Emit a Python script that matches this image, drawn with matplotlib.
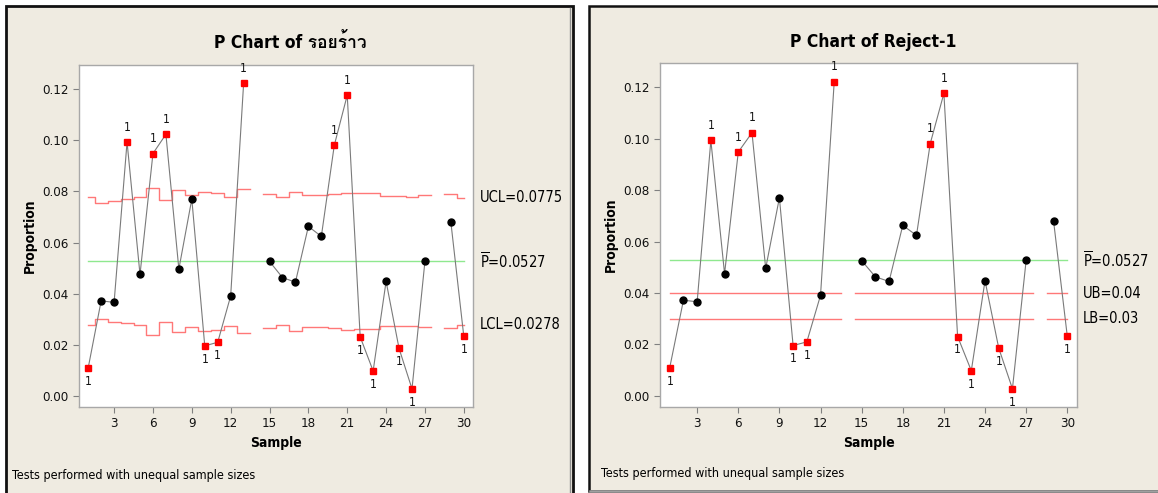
import numpy as np
import matplotlib
matplotlib.use("Agg")
import matplotlib.pyplot as plt
from matplotlib import font_manager
from matplotlib.ft2font import FT2Font
from matplotlib.patches import Rectangle
from matplotlib.lines import Line2D
from matplotlib.transforms import blended_transform_factory

# ---------------- data ----------------
samples = list(range(1, 31))
proportion = [0.0110, 0.0372, 0.0366, 0.0993, 0.0475, 0.0948, 0.1023, 0.0496, 0.0770, 0.0196,
              0.0210, 0.0391, 0.1222, None, 0.0526, 0.0463, 0.0445, 0.0663, 0.0624, 0.0980,
              0.1176, 0.0231, 0.0098, 0.0448, 0.0186, 0.0028, 0.0527, None, 0.0680, 0.0233]
flag_above = [4, 6, 7, 13, 20, 21]
flag_below = [1, 10, 11, 22, 23, 25, 26, 30]

ucl = [0.0777, 0.0753, 0.0764, 0.0770, 0.0778, 0.0814, 0.0765, 0.0804, 0.0786, 0.0799,
       0.0795, 0.0779, 0.0808, None, 0.0790, 0.0778, 0.0798, 0.0784, 0.0786, 0.0790,
       0.0795, 0.0792, 0.0794, 0.0782, 0.0781, 0.0779, 0.0784, None, 0.0789, 0.0775]
lcl = [0.0277, 0.0301, 0.0290, 0.0284, 0.0276, 0.0240, 0.0289, 0.0250, 0.0268, 0.0255,
       0.0259, 0.0275, 0.0246, None, 0.0264, 0.0276, 0.0256, 0.0270, 0.0268, 0.0264,
       0.0259, 0.0262, 0.0260, 0.0272, 0.0273, 0.0275, 0.0270, None, 0.0265, 0.0278]
p_bar = 0.0527
ub = 0.04
lb = 0.03

titles = ["P Chart of รอยร้าว", "P Chart of Reject-1"]
ucl_label = "UCL=0.0775"
lcl_label = "LCL=0.0278"
pbar_label = r"$\mathregular{\overline{P}}$=0.0527"
ub_label = "UB=0.04"
lb_label = "LB=0.03"
xticks = [3, 6, 9, 12, 15, 18, 21, 24, 27, 30]
yticks = [0.00, 0.02, 0.04, 0.06, 0.08, 0.10, 0.12]
footer = "Tests performed with unequal sample sizes"

# ---------------- fonts ----------------
names = {f.name for f in font_manager.fontManager.ttflist}
main_font = "Liberation Sans Narrow" if "Liberation Sans Narrow" in names else "DejaVu Sans"
thai_font = None
for f in font_manager.fontManager.ttflist:
    try:
        cm = FT2Font(f.fname).get_charmap()
        if ord("ร") in cm and ord("้") in cm:
            thai_font = f.name
            break
    except Exception:
        pass
fam = [main_font] + ([thai_font] if thai_font else []) + ["DejaVu Sans"]
plt.rcParams["font.family"] = fam
plt.rcParams["mathtext.fontset"] = "custom"
plt.rcParams["mathtext.rm"] = main_font
if main_font == "DejaVu Sans":
    plt.rcParams["font.stretch"] = "condensed"

BG = "#efebe1"
W, H = 1158, 493
fig = plt.figure(figsize=(W / 100, H / 100), dpi=100)
fig.patch.set_facecolor("white")


def fx(px):
    return px / W


def fy(py):
    return 1 - py / H


# panel frames
fig.add_artist(Rectangle((fx(6), fy(500)), fx(567), fy(6) - fy(500), transform=fig.transFigure,
                         facecolor=BG, edgecolor="#111111", lw=2.0, zorder=0))
fig.add_artist(Line2D([fx(570), fx(570)], [fy(8), 0], transform=fig.transFigure,
                      color="#909090", lw=1.0, zorder=0.5))
fig.add_artist(Rectangle((fx(589), fy(491)), fx(575), fy(6) - fy(491), transform=fig.transFigure,
                         facecolor=BG, edgecolor="#111111", lw=1.8, zorder=0))
fig.add_artist(Line2D([fx(590), 1], [fy(491), fy(491)], transform=fig.transFigure,
                      color="#a0a0a0", lw=1.8, zorder=0.5))

y_arr = np.array([np.nan if v is None else v for v in proportion], dtype=float)
x_arr = np.array(samples, dtype=float)


def step_line(ax, vals, color):
    segs = []
    cur_x, cur_y = [], []
    for i, v in enumerate(vals):
        s = samples[i]
        if v is None:
            if cur_x:
                segs.append((cur_x, cur_y))
            cur_x, cur_y = [], []
            continue
        left = s if i == 0 else s - 0.5
        right = s if i == len(vals) - 1 else s + 0.5
        cur_x += [left, right]
        cur_y += [v, v]
    if cur_x:
        segs.append((cur_x, cur_y))
    for xs, ys in segs:
        ax.plot(xs, ys, color=color, lw=1.0, zorder=2)


def flat_line(ax, val, color):
    vals = [None if p is None else val for p in proportion]
    step_line(ax, vals, color)


axes_rect = [
    (79, 65, 473, 407),
    (660, 63, 1077, 407),
]

for k in range(2):
    l, t, r, b = axes_rect[k]
    ax = fig.add_axes([fx(l), fy(b), fx(r - l), fy(t) - fy(b)])
    ax.set_facecolor("white")
    ax.set_xlim(0.29, 30.71)
    ax.set_ylim(-0.0043, 0.1294)
    for sp in ax.spines.values():
        sp.set_color("#a8a8a8")
        sp.set_linewidth(1.0)
    ax.tick_params(axis="both", colors="#808080", labelcolor="#111111", length=4, width=0.8,
                   labelsize=9.5)
    ax.set_xticks(xticks)
    ax.set_yticks(yticks)
    ax.set_yticklabels([f"{v:.2f}" for v in yticks])

    ax.plot([1, 30], [p_bar, p_bar], color="#8fe88f", lw=1.0, zorder=2)
    if k == 0:
        step_line(ax, ucl, "#ff7878")
        step_line(ax, lcl, "#ff7878")
    else:
        flat_line(ax, ub, "#ff7878")
        flat_line(ax, lb, "#ff7878")

    # data line
    ax.plot(x_arr, y_arr, color="#7a7a7a", lw=0.8, zorder=3)
    flagged = set(flag_above) | set(flag_below)
    xs_ok = [s for s in samples if proportion[s - 1] is not None and s not in flagged]
    ys_ok = [proportion[s - 1] for s in xs_ok]
    xs_bad = sorted(flagged)
    ys_bad = [proportion[s - 1] for s in xs_bad]
    ax.plot(xs_ok, ys_ok, "o", color="black", ms=5, zorder=4)
    ax.plot(xs_bad, ys_bad, "s", color="#ff0000", ms=4.5, zorder=4)
    for s in flag_above:
        ax.annotate("1", (s, proportion[s - 1]), xytext=(0, 6), textcoords="offset points",
                    ha="center", va="bottom", fontsize=8.5, color="#111111", zorder=5)
    for s in flag_below:
        ax.annotate("1", (s, proportion[s - 1]), xytext=(0, -5), textcoords="offset points",
                    ha="center", va="top", fontsize=8.5, color="#111111", zorder=5)

    trans = blended_transform_factory(ax.transAxes, ax.transData)
    if k == 0:
        lx = 1.018
        ax.text(lx, ucl[-1], ucl_label, transform=trans, va="center", ha="left", fontsize=10.5)
        ax.text(lx, p_bar, pbar_label, transform=trans, va="center", ha="left", fontsize=10.5)
        ax.text(lx, lcl[-1], lcl_label, transform=trans, va="center", ha="left", fontsize=10.5)
    else:
        lx = 1.014
        ax.text(lx, p_bar, pbar_label, transform=trans, va="center", ha="left", fontsize=10.5)
        ax.text(lx, ub, ub_label, transform=trans, va="center", ha="left", fontsize=10.5)
        ax.text(lx, lb, lb_label, transform=trans, va="center", ha="left", fontsize=10.5)

    ax.set_xlabel("Sample", fontsize=10, fontweight="bold", labelpad=4)
    ax.set_ylabel("Proportion", fontsize=10, fontweight="bold", labelpad=4)

fig.text(fx(290), fy(42), titles[0], ha="center", va="center", fontsize=12.5, fontweight="bold")
fig.text(fx(873), fy(42), titles[1], ha="center", va="center", fontsize=12.5, fontweight="bold")
fig.text(fx(12), fy(476), footer, ha="left", va="center", fontsize=9)
fig.text(fx(601), fy(474), footer, ha="left", va="center", fontsize=9)

fig.savefig("out.png", dpi=100, facecolor=fig.get_facecolor())
